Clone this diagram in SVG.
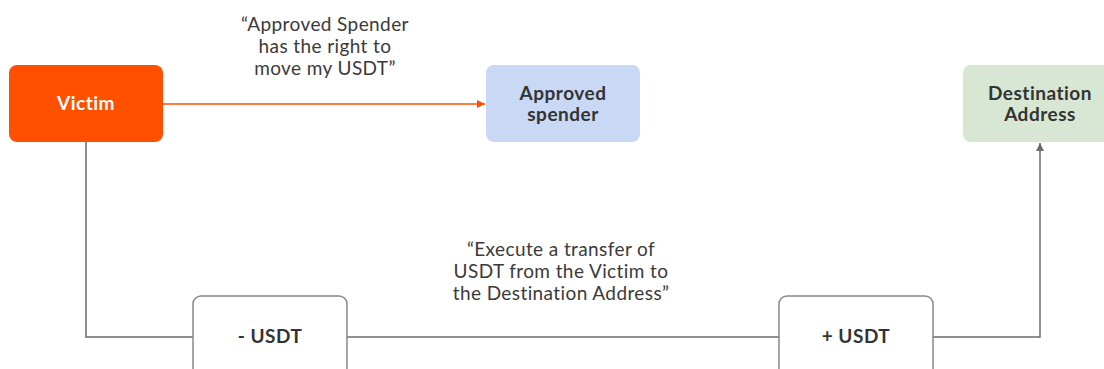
<svg xmlns="http://www.w3.org/2000/svg" width="1104" height="369" viewBox="0 0 1104 369">
<defs>
<style>
.lbl{font-family:Lato,"Open Sans",sans-serif;font-size:19px;letter-spacing:0.4px;fill:#3a3a3a;text-anchor:middle}
.nt{font-family:Lato,"Open Sans",sans-serif;font-size:19px;letter-spacing:0.5px;font-weight:bold;fill:#333;text-anchor:middle}
.conn{fill:none;stroke:#6b6b6b;stroke-width:1.5}
.box{fill:#fff;stroke:#888;stroke-width:1.5}
</style>
<marker id="ao" viewBox="0 0 10 10" refX="10" refY="5" markerWidth="8" markerHeight="8" markerUnits="userSpaceOnUse" orient="auto"><path d="M0,0 L10,5 L0,10 z" fill="#ff5000"/></marker>
<marker id="ag" viewBox="0 0 10 10" refX="10" refY="5" markerWidth="8" markerHeight="8" markerUnits="userSpaceOnUse" orient="auto"><path d="M0,0 L10,5 L0,10 z" fill="#6b6b6b"/></marker>
</defs>
<rect width="1104" height="369" fill="#fff"/>
<g id="connectors">
<line x1="163" y1="104" x2="485" y2="104" stroke="#ff5000" stroke-width="1.5" marker-end="url(#ao)"/>
<polyline class="conn" points="86,142 86,337 193,337"/>
<line class="conn" x1="347" y1="337" x2="779" y2="337"/>
<polyline class="conn" points="933,337 1040,337 1040,143" marker-end="url(#ag)"/>
</g>
<g id="victim">
<rect x="9" y="65" width="154" height="77" rx="8" fill="#ff5000"/>
<text x="86" y="110" class="nt" style="fill:#fff">Victim</text>
</g>
<g id="approved-spender">
<rect x="486" y="65" width="154" height="77" rx="8" fill="#c9d8f5"/>
<text x="563" y="100" class="nt">Approved</text>
<text x="563" y="121" class="nt">spender</text>
</g>
<g id="destination">
<rect x="963" y="65" width="154" height="77" rx="8" fill="#d7e7d4"/>
<text x="1040" y="100" class="nt">Destination</text>
<text x="1040" y="121" class="nt">Address</text>
</g>
<g id="minus-usdt">
<rect class="box" x="193" y="296" width="154" height="85" rx="8"/>
<text x="270" y="343" class="nt">- USDT</text>
</g>
<g id="plus-usdt">
<rect class="box" x="779" y="296" width="154" height="85" rx="8"/>
<text x="856" y="343" class="nt">+ USDT</text>
</g>
<g id="label-approve">
<text x="325" y="31" class="lbl">“Approved Spender</text>
<text x="325" y="53" class="lbl">has the right to</text>
<text x="325" y="75" class="lbl">move my USDT”</text>
</g>
<g id="label-transfer">
<text x="561" y="256" class="lbl">“Execute a transfer of</text>
<text x="561" y="278" class="lbl">USDT from the Victim to</text>
<text x="561" y="300" class="lbl">the Destination Address”</text>
</g>
</svg>
